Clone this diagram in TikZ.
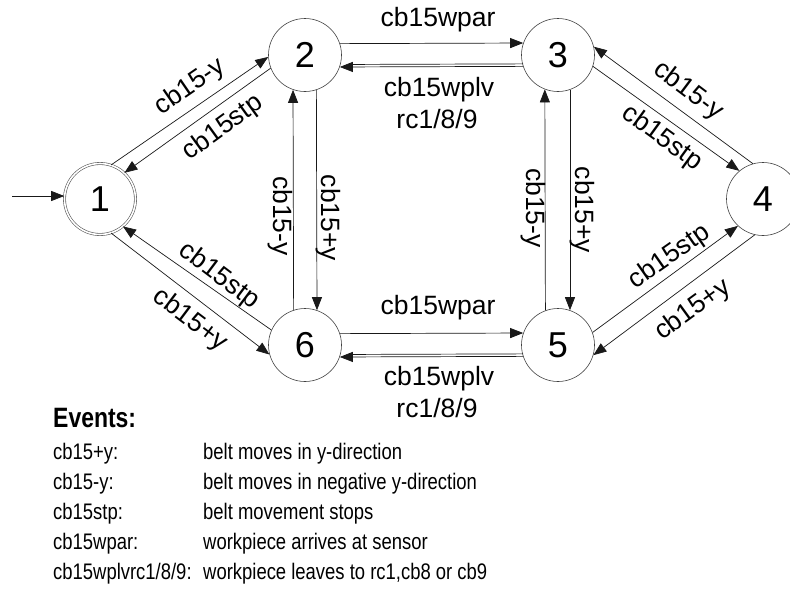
\documentclass[tikz,border=0pt]{standalone}
\usepackage{fontspec}
\setmainfont{Liberation Sans}
\newfontfamily\lblfont{Liberation Sans}
\newfontfamily\evtfont[FakeStretch=0.82]{Liberation Sans}
\usetikzlibrary{arrows.meta}
\begin{document}
\begin{tikzpicture}[x=1pt,y=-1pt,
  state/.style={circle, draw=black!75, line width=0.6pt, minimum size=73pt, inner sep=0pt,
    font=\lblfont\fontsize{36}{38}\selectfont},
  initstate/.style={state, draw=black!65, line width=0.6pt, double=white, double distance=1.6pt, minimum size=71pt},
  edge/.style={draw=black!90, line width=0.7pt, -{Triangle[length=13pt,width=10pt]}},
  twin/.style={draw=black!90, line width=0.7pt, shorten >=12pt},
  lbl/.style={font=\lblfont\fontsize{26.5}{28}\selectfont, inner sep=0pt},
  evt/.style={font=\evtfont\fontsize{22.5}{24}\selectfont, anchor=base west, inner sep=0pt},
  evthead/.style={font=\evtfont\bfseries\fontsize{28}{30}\selectfont, anchor=base west, inner sep=0pt},
]
\useasboundingbox (0,0) rectangle (790,600);
\fill[white] (0,0) rectangle (790,600);

% states
\node[initstate] (n1) at (100,199) {1};
\node[state] (n2) at (305,55) {2};
\node[state] (n3) at (558,55) {3};
\node[state] (n4) at (763,199) {4};
\node[state] (n5) at (558,345) {5};
\node[state] (n6) at (305,345) {6};

% initial arrow
\coordinate (init) at (12,196);
\draw[edge] (init) -- (init -| n1.west);

% transitions
\draw[edge] (n1.72) -- (n2.183);
\draw[edge] (n2.201) -- (n1.47);
\draw[edge] (n2.18.6) -- (n3.161.4);
\draw[edge] (n3.198.6) -- (n2.341.4);
\draw[twin] ([yshift=2.5pt]n3.198.6) -- ([yshift=2.5pt]n2.341.4);
\draw[edge] (n6.108.5) -- (n2.251.5);
\draw[edge] (n2.288.5) -- (n6.71.5);
\draw[edge] (n5.110.7) -- (n3.249.3);
\draw[edge] (n3.289) -- (n5.71);
\draw[edge] (n4.106) -- (n3.13);
\draw[edge] (n3.342) -- (n4.130);
\draw[edge] (n5.20) -- (n4.227);
\draw[edge] (n4.257) -- (n5.344.5);
\draw[edge] (n6.156.5) -- (n1.310);
\draw[edge] (n1.288.5) -- (n6.195.5);
\draw[edge] (n6.18.6) -- (n5.161.4);
\draw[edge] (n5.198.6) -- (n6.341.4);
\draw[twin] ([yshift=2.5pt]n5.198.6) -- ([yshift=2.5pt]n6.341.4);

% labels
\node[lbl, rotate=34.5] (l12) at (190,87) {cb15-y};
\node[lbl, rotate=36] (l21) at (223,128) {cb15stp};
\node[lbl] (l23) at (438,20) {cb15wpar};
\node[lbl] (l32a) at (439,90) {cb15wplv};
\node[lbl] (l32b) at (437,119) {rc1/8/9};
\node[lbl, rotate=-90] (l62) at (280,216) {cb15-y};
\node[lbl, rotate=-90] (l26) at (328,218) {cb15+y};
\node[lbl, rotate=-90] (l53) at (533,208) {cb15-y};
\node[lbl, rotate=-90] (l35) at (582,210) {cb15+y};
\node[lbl, rotate=-37] (l43) at (688,91) {cb15-y};
\node[lbl, rotate=-36] (l34) at (662,138) {cb15stp};
\node[lbl, rotate=35] (l54) at (670,257) {cb15stp};
\node[lbl, rotate=36] (l45) at (693,310) {cb15+y};
\node[lbl, rotate=-37] (l61) at (219,276) {cb15stp};
\node[lbl, rotate=-37] (l16) at (190,320) {cb15+y};
\node[lbl] (l65) at (438,308) {cb15wpar};
\node[lbl] (l56a) at (439,379) {cb15wplv};
\node[lbl] (l56b) at (437,408) {rc1/8/9};

% events legend
\node[evthead] (eh) at (53,427) {Events:};
\node[evt] (e1) at (53,459) {cb15+y:};
\node[evt] (e2) at (53,489) {cb15-y:};
\node[evt] (e3) at (53,519) {cb15stp:};
\node[evt] (e4) at (53,549) {cb15wpar:};
\node[evt] (e5) at (53,579) {cb15wplvrc1/8/9:};
\node[evt] (d1) at (203,459) {belt moves in y-direction};
\node[evt] (d2) at (203,489) {belt moves in negative y-direction};
\node[evt] (d3) at (203,519) {belt movement stops};
\node[evt] (d4) at (203,549) {workpiece arrives at sensor};
\node[evt] (d5) at (203,579) {workpiece leaves to rc1,cb8 or cb9};
\end{tikzpicture}
\end{document}
